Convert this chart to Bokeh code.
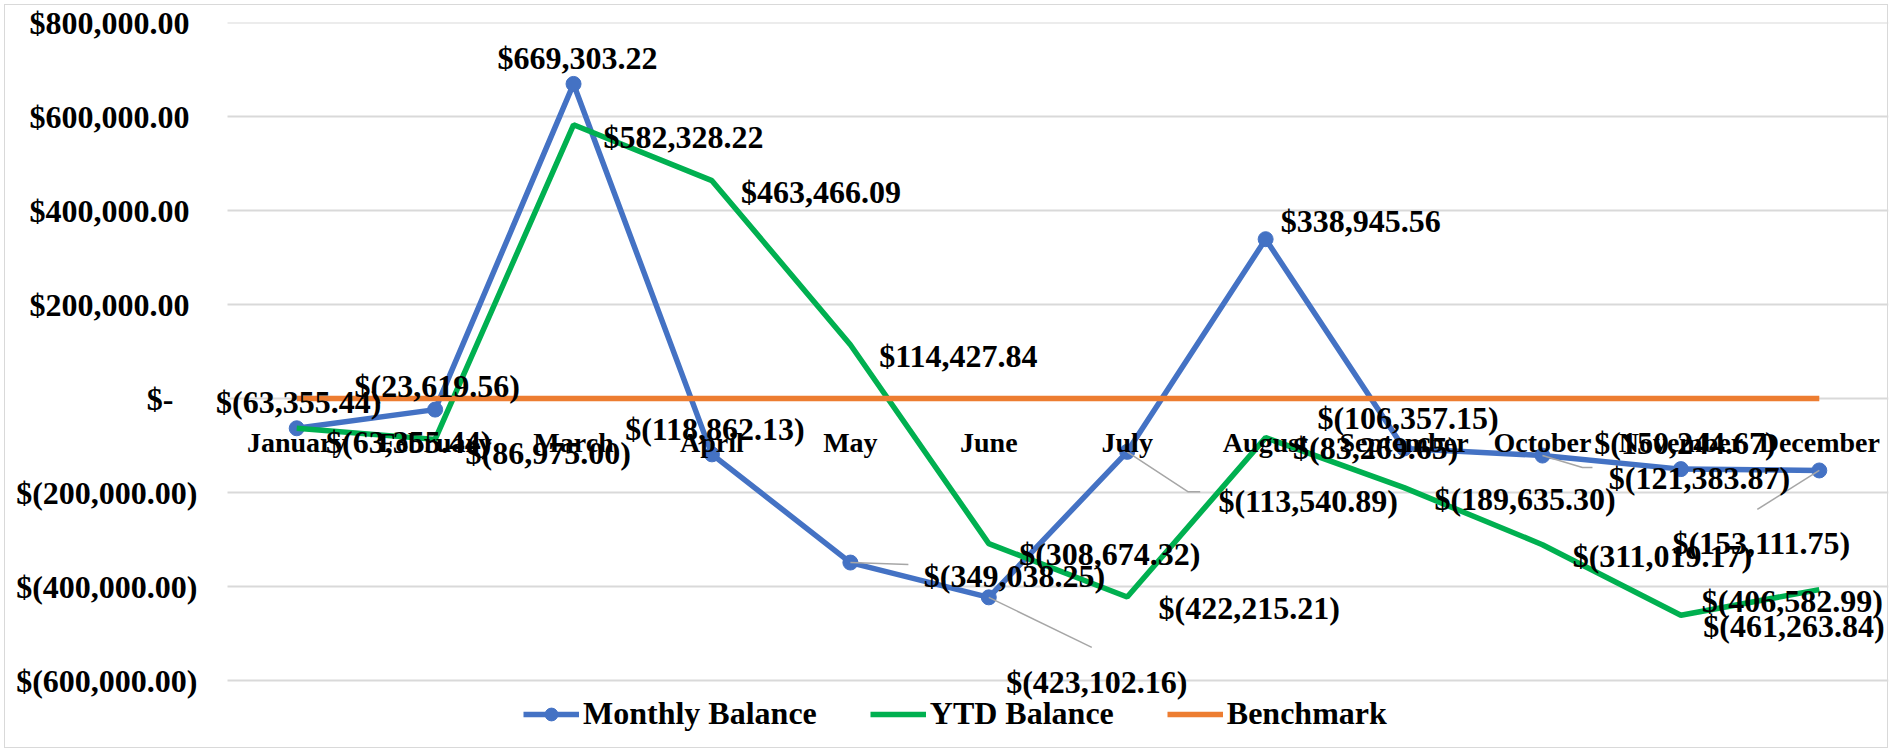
from bokeh.plotting import figure
from bokeh.models import (Range1d, FixedTicker, Legend, LegendItem, ColumnDataSource)
from bokeh.core.properties import value
from bokeh.embed import file_html
from bokeh.resources import INLINE

# ---------------- data ----------------
months = ["January", "February", "March", "April", "May", "June", "July",
          "August", "September", "October", "November", "December"]
monthly_balance = [-63355.44, -23619.56, 669303.22, -118862.13, -349038.25, -423102.16,
                   -113540.89, 338945.56, -106357.15, -121383.87, -150244.67, -153111.75]
ytd_balance = [-63355.44, -86975.00, 582328.22, 463466.09, 114427.84, -308674.32,
               -422215.21, -83269.65, -189635.30, -311019.17, -461263.84, -406582.99]
benchmark = [0, 0, 0, 0, 0, 0, 0, 0, 0, 0, 0, 0]
y_ticks = [-600000, -400000, -200000, 0, 200000, 400000, 600000, 800000]

# ---------------- layout / style ----------------
W, H = 1896, 752
FRAME_L, FRAME_R, FRAME_T = 208, 8, 22
GRID_L_PX, GRID_R_PX = 227, 1888      # plot-area edges (screen x)
GRID_BOTTOM_PX = 680                  # screen y of the lowest tick (-600,000)
n = len(months)
sx = n / (GRID_R_PX - GRID_L_PX)                       # data units per pixel (x)
X0 = -0.5 - (GRID_L_PX - FRAME_L) * sx
X1 = n - 0.5
Y_TOP, Y_LOW = 800000, -600000
sy = (Y_TOP - Y_LOW) / (GRID_BOTTOM_PX - FRAME_T)     # data units per pixel (y)
Y0 = Y_LOW - (H - GRID_BOTTOM_PX) * sy
FONT = value("Liberation Serif")
BLUE, GREEN, ORANGE = "#4472C4", "#00B050", "#ED7D31"

# label offsets in screen pixels (centre x, baseline y) from each point
m_dx = [2, 2, 4, 3, 164, 108, 181, 95, 4, 157, 4, -58]
m_dy = [-26, -24, -26, -25, 13, 85, 49, -18, -30, 22, -26, 73]
y_dx = [112, 113, 110, 109, 108, 121, 122, 110, 121, 120, 113, -27]
y_dy = [14, 14, 12, 11, 11, 10, 11, 10, 11, 11, 11, 11]
leader_px = {4: [(0, 0), (58, 2)], 5: [(0, 0), (103, 50)],
             6: [(0, 0), (61, 40), (73, 40)], 9: [(0, 0), (40, 12), (50, 12)],
             11: [(0, 0), (-62, 39)]}


def acct(v):
    if v == 0:
        return "$-"
    s = "{:,.2f}".format(abs(v))
    return "$(" + s + ")" if v < 0 else "$" + s


x_idx = list(range(n))

p = figure(width=W, height=H, output_backend="svg", toolbar_location=None,
           x_range=Range1d(X0, X1), y_range=Range1d(Y0, Y_TOP),
           x_axis_location=None, min_border_left=FRAME_L, min_border_right=FRAME_R,
           min_border_top=FRAME_T, min_border_bottom=0)
# light outer chart-area border
p.stylesheets = [":host::after { content: ''; position: absolute; left: 4px; top: 4px; "
                 "width: 1884px; height: 744px; border: 1.5px solid #D9D9D9; "
                 "box-sizing: border-box; pointer-events: none; z-index: 100; }"]
p.outline_line_color = None
p.xgrid.grid_line_color = None
p.ygrid.grid_line_color = None

# horizontal gridlines over the plot area only
p.segment(x0=[-0.5] * len(y_ticks), x1=[n - 0.5] * len(y_ticks), y0=y_ticks, y1=y_ticks,
          line_color="#D9D9D9", line_width=2)

p.yaxis.ticker = FixedTicker(ticks=y_ticks)
overrides = {}
for t in y_ticks:
    if t == 0:
        overrides[t] = "$-\u2002\u2008"
    elif t > 0:
        overrides[t] = acct(t) + "\u2008"
    else:
        overrides[t] = acct(t)
p.yaxis.major_label_overrides = overrides
p.yaxis.axis_line_color = None
p.yaxis.major_tick_line_color = None
p.yaxis.minor_tick_line_color = None
p.yaxis.major_tick_out = 0
p.yaxis.major_label_standoff = 11
p.yaxis.major_label_text_font = "Liberation Serif"
p.yaxis.major_label_text_font_style = "bold"
p.yaxis.major_label_text_font_size = "32px"
p.yaxis.major_label_text_color = "black"

# series
l_m = p.line(x_idx, monthly_balance, line_color=BLUE, line_width=5.5)
s_m = p.scatter(x_idx, monthly_balance, size=15, fill_color=BLUE, line_color=BLUE)
l_y = p.line(x_idx, ytd_balance, line_color=GREEN, line_width=5.5)
l_b = p.line(x_idx, benchmark, line_color=ORANGE, line_width=5.5)

# leader lines
xs, ys = [], []
for i, pts in leader_px.items():
    xs.append([i + ox * sx for ox, oy in pts])
    ys.append([monthly_balance[i] - oy * sy for ox, oy in pts])
p.multi_line(xs, ys, line_color="#A6A6A6", line_width=1.5)

# category labels at the zero line
p.text(x=x_idx, y=benchmark, text=months, text_font=FONT, text_font_style="bold",
       text_font_size="28px", text_align="center", text_baseline="alphabetic",
       y_offset=44, text_color="black")

# data labels
src_m = ColumnDataSource(dict(x=x_idx, y=monthly_balance,
                              t=[acct(v) for v in monthly_balance], dx=m_dx, dy=m_dy))
src_y = ColumnDataSource(dict(x=x_idx, y=ytd_balance,
                              t=[acct(v) for v in ytd_balance], dx=y_dx, dy=y_dy))
for src in (src_m, src_y):
    p.text(x="x", y="y", text="t", x_offset="dx", y_offset="dy", source=src,
           text_font=FONT, text_font_style="bold", text_font_size="32px",
           text_align="center", text_baseline="alphabetic", text_color="black")

legend = Legend(items=[LegendItem(label="Monthly Balance", renderers=[l_m, s_m]),
                       LegendItem(label="YTD Balance", renderers=[l_y]),
                       LegendItem(label="Benchmark", renderers=[l_b])],
                orientation="horizontal", location=(523 - FRAME_L, 20))
legend.label_text_font = "Liberation Serif"
legend.label_text_font_style = "bold"
legend.label_text_font_size = "32px"
legend.label_text_color = "black"
legend.label_height = 32
legend.glyph_width = 56
legend.glyph_height = 32
legend.label_standoff = 4
legend.spacing = 53
legend.padding = 0
legend.margin = 0
legend.border_line_color = None
legend.background_fill_alpha = 0
p.add_layout(legend, "center")

open("out.html", "w").write(file_html(p, INLINE))
